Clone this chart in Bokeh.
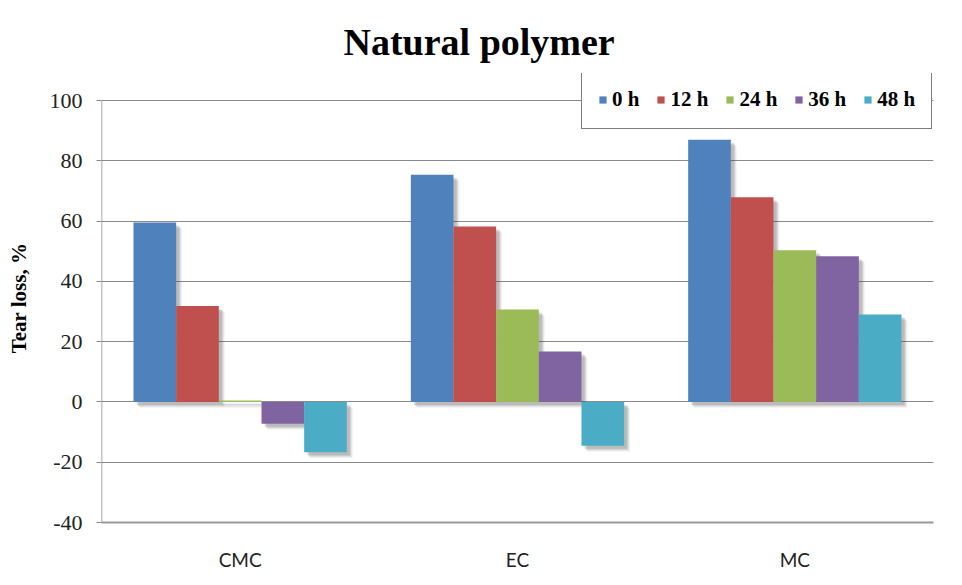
from bokeh.plotting import figure
from bokeh.models import (ColumnDataSource, FactorRange, Range1d, Legend, LegendItem,
                          FixedTicker, Title)
from bokeh.transform import dodge
from bokeh.embed import file_html
from bokeh.resources import INLINE

# ---- data ----
categories = ["CMC", "EC", "MC"]
series_names = ["0 h", "12 h", "24 h", "36 h", "48 h"]
vals_0h = [59.5, 75.4, 87.0]
vals_12h = [31.8, 58.2, 67.9]
vals_24h = [0.5, 30.7, 50.3]
vals_36h = [-7.2, 16.7, 48.3]
vals_48h = [-16.7, -14.5, 29.0]
y_ticks = [-40, -20, 0, 20, 40, 60, 80, 100]

colors = ["#4F81BD", "#C0504D", "#9BBB59", "#8064A2", "#4BACC6"]
series = [vals_0h, vals_12h, vals_24h, vals_36h, vals_48h]

# ---- layout ----
W, H = 962, 585
ML, MR, MT, MB = 101, 29, 73, 63
frame_w = W - ML - MR
frame_h = H - MT - MB
axis_top_px = 27          # distance from frame top down to the top gridline
ymin = y_ticks[0]
scale = (frame_h - axis_top_px) / (y_ticks[-1] - y_ticks[0])
ymax = y_ticks[-1] + axis_top_px / scale

p = figure(width=W, height=H, x_range=FactorRange(*categories),
           y_range=Range1d(ymin, ymax), output_backend="svg",
           toolbar_location=None, min_border_left=ML, min_border_right=MR,
           min_border_top=MT, min_border_bottom=MB)
p.outline_line_color = None
p.background_fill_color = "white"
p.border_fill_color = "white"

src = ColumnDataSource(dict(cat=categories, **{f"s{i}": s for i, s in enumerate(series)},
                            zero=[0] * len(categories)))

bw = 1 / 6.5
px_x = 1.0 / (frame_w / len(categories))
px_y = 1.0 / scale

for i, (name, col) in enumerate(zip(series_names, colors)):
    off = (i - 2) * bw
    for d, a in [(6, 0.06), (5, 0.09), (4, 0.12), (3, 0.15)]:
        sx = dodge("cat", off + d * px_x, range=p.x_range)
        ssrc = ColumnDataSource(dict(cat=categories,
                                     top=[(v if v > 0 else 0) - d * px_y for v in series[i]],
                                     bottom=[(0 if v > 0 else v) - d * px_y for v in series[i]]))
        p.vbar(x=sx, top="top", bottom="bottom", width=bw, source=ssrc,
               fill_color="#404040", fill_alpha=a, line_color=None)

renderers = []
for i, (name, col) in enumerate(zip(series_names, colors)):
    off = (i - 2) * bw
    r = p.vbar(x=dodge("cat", off, range=p.x_range), top=f"s{i}", bottom="zero",
               width=bw, source=src, fill_color=col, line_color=None)
    renderers.append(r)

# value axis line only spanning the tick range
p.segment(x0=[0], x1=[0], y0=[y_ticks[0]], y1=[y_ticks[-1]], line_color="#8a8a8a", line_width=1.5)

# axes
p.yaxis.ticker = FixedTicker(ticks=y_ticks)
p.yaxis.major_label_overrides = {t: str(t) for t in y_ticks}
p.ygrid.ticker = FixedTicker(ticks=y_ticks)
p.ygrid.grid_line_color = "#8a8a8a"
p.ygrid.grid_line_width = 1
p.xgrid.grid_line_color = None

p.yaxis.axis_line_color = None
p.yaxis.major_tick_line_color = "#8a8a8a"
p.yaxis.major_tick_out = 5
p.yaxis.major_tick_in = 0
p.yaxis.minor_tick_line_color = None
p.yaxis.major_label_standoff = 14
p.yaxis.major_label_text_font = "Liberation Serif"
p.yaxis.major_label_text_font_size = "22px"
p.yaxis.major_label_text_color = "#222222"
p.yaxis.axis_label = "Tear loss, %"
p.yaxis.axis_label_text_font = "Liberation Serif"
p.yaxis.axis_label_text_font_style = "bold"
p.yaxis.axis_label_text_font_size = "21px"
p.yaxis.axis_label_text_color = "black"
p.yaxis.axis_label_standoff = 16

p.xaxis.axis_line_color = "#9a9a9a"
p.xaxis.axis_line_width = 2
p.xaxis.major_tick_line_color = None
p.xaxis.minor_tick_line_color = None
p.xaxis.major_label_standoff = 19
p.xaxis.major_label_text_font = "Lato"
p.xaxis.major_label_text_font_size = "19px"
p.xaxis.major_label_text_color = "#222222"

# title
p.title = Title(text="Natural polymer", align="left", text_font="Liberation Serif",
                text_font_style="bold", text_font_size="38px", text_color="black",
                offset=242, standoff=22)

legend = Legend(items=[LegendItem(label=n, renderers=[r]) for n, r in zip(series_names, renderers)],
                orientation="horizontal", location=(480, 393),
                glyph_width=9, glyph_height=9, label_standoff=5, spacing=17,
                padding=16, margin=0,
                label_text_font="Liberation Serif", label_text_font_style="bold",
                label_text_font_size="21px", label_text_color="black",
                border_line_color="black", border_line_width=1.5,
                background_fill_color="white", background_fill_alpha=1)
p.add_layout(legend, "center")

open("out.html", "w").write(file_html(p, INLINE))
